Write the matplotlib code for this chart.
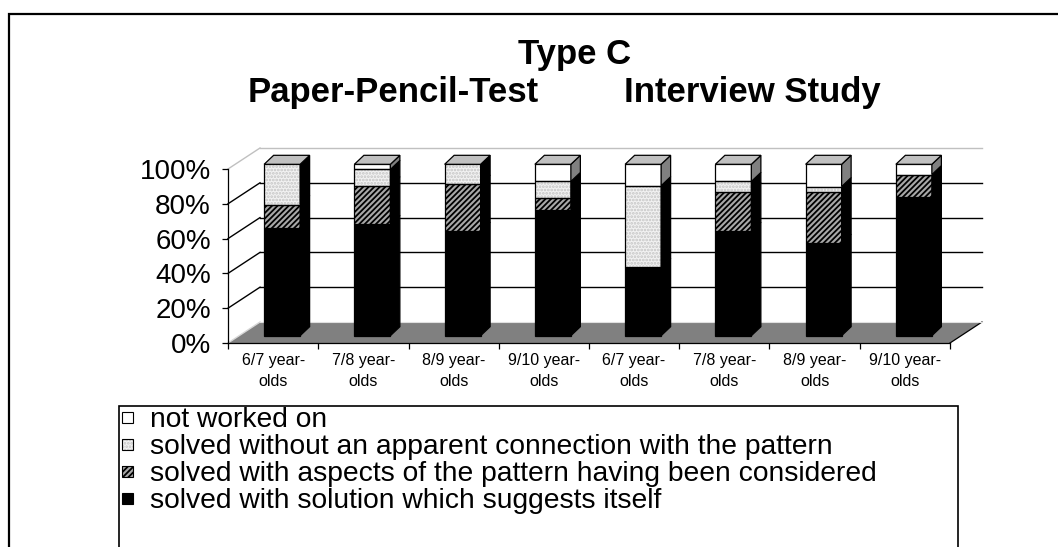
import matplotlib
matplotlib.use('Agg')
import matplotlib.pyplot as plt
from matplotlib.patches import Polygon, Rectangle
from matplotlib.lines import Line2D

# ---------------- data ----------------
groups = ['Paper-Pencil-Test', 'Interview Study']
age_labels = ['6/7 year-\nolds', '7/8 year-\nolds', '8/9 year-\nolds', '9/10 year-\nolds',
              '6/7 year-\nolds', '7/8 year-\nolds', '8/9 year-\nolds', '9/10 year-\nolds']
solved_itself = [63, 65, 61, 73.5, 40, 61, 54, 81]
solved_aspects = [13.5, 22.5, 27.5, 7, 0, 23, 30, 13]
solved_without = [23.5, 9.5, 11.5, 9.5, 47.5, 6, 3, 0]
not_worked = [0, 3, 0, 10, 12.5, 10, 13, 6]
series_labels = ['solved with solution which suggests itself',
                 'solved with aspects of the pattern having been considered',
                 'solved without an apparent connection with the pattern',
                 'not worked on']
y_ticks = [0, 20, 40, 60, 80, 100]
y_tick_labels = ['0%', '20%', '40%', '60%', '80%', '100%']
title = 'Type C'

# ---------------- style ----------------
plt.rcParams['font.family'] = ['Liberation Sans', 'DejaVu Sans']
plt.rcParams['hatch.linewidth'] = 1.3

W, H = 1058, 547
fig = plt.figure(figsize=(W / 100, H / 100), dpi=100)
ax = fig.add_axes([228 / W, (H - 343) / H, 722 / W, 174 / H])
n = len(age_labels)
ax.set_xlim(0, n)
ax.set_ylim(0, 100)
ax.patch.set_visible(False)
for s in ['top', 'right']:
    ax.spines[s].set_visible(False)
for s in ['left', 'bottom']:
    ax.spines[s].set_linewidth(0.9)
    ax.spines[s].set_zorder(2.5)

pos = ax.get_position()
px_per_x = pos.width * W / n
px_per_y = pos.height * H / 100.0


def pix(dx, dy):
    return dx / px_per_x, dy / px_per_y


fdx, fdy = pix(32, 21)      # floor / wall depth
bfx, bfy = pix(9, 7.3)      # bar front offset
bdx, bdy = pix(9.5, 9)      # bar depth
bw = pix(36, 0)[0]          # bar width
bar_scale = 0.985

# floor
ax.add_patch(Polygon([(0, 0), (n, 0), (n + fdx, fdy), (fdx, fdy)], closed=True,
                     facecolor='#808080', edgecolor='none', zorder=1, clip_on=False))
ax.add_line(Line2D([n, n + fdx], [0, fdy], color='black', lw=0.9, zorder=1.5, clip_on=False))
ax.add_line(Line2D([0, fdx], [0, fdy], color='#d8d8d8', lw=1.0, zorder=1.5, clip_on=False))
ax.add_line(Line2D([fdx, n + fdx], [fdy, fdy], color='#e0e0e0', lw=0.8, zorder=1.5, clip_on=False))

# walls / gridlines
for yv in y_ticks[1:]:
    col = '#c0c0c0' if yv == 100 else 'black'
    ax.add_line(Line2D([fdx, n + fdx], [yv + fdy, yv + fdy], color=col, lw=1.0, zorder=1.2, clip_on=False))
    ax.add_line(Line2D([0, fdx], [yv, yv + fdy], color=col, lw=1.0, zorder=1.2, clip_on=False))

styles = [
    dict(fc='black', hatch=None, hc=None, side='black'),
    dict(fc='#a8a8a8', hatch='//////', hc='black', side='black'),
    dict(fc='#f2f2f2', hatch='.....', hc='#c4c4c4', side='black'),
    dict(fc='white', hatch=None, hc=None, side='#808080'),
]
series = [solved_itself, solved_aspects, solved_without, not_worked]


def face(verts, st, z, fc=None):
    fcol = fc if fc is not None else st['fc']
    if st['hatch'] and fc is None:
        ax.add_patch(Polygon(verts, closed=True, facecolor=fcol, hatch=st['hatch'],
                             edgecolor=st['hc'], lw=0, zorder=z, clip_on=False))
        ax.add_patch(Polygon(verts, closed=True, fill=False, edgecolor='black',
                             lw=0.9, zorder=z + 0.01, clip_on=False))
    else:
        ax.add_patch(Polygon(verts, closed=True, facecolor=fcol, edgecolor='black',
                             lw=0.9, zorder=z, clip_on=False))


for i in range(n):
    x0 = i + 0.5 - bw / 2 + bfx
    x1 = x0 + bw
    base = bfy
    cum = 0.0
    for k, vals in enumerate(series):
        v = vals[i]
        if v <= 0:
            continue
        y0 = base + cum * bar_scale
        y1 = base + (cum + v) * bar_scale
        st = styles[k]
        face([(x0, y0), (x1, y0), (x1, y1), (x0, y1)], st, 3)
        face([(x1, y0), (x1 + bdx, y0 + bdy), (x1 + bdx, y1 + bdy), (x1, y1)], st, 3, fc=st['side'])
        cum += v
    ytop = base + cum * bar_scale
    face([(x0, ytop), (x1, ytop), (x1 + bdx, ytop + bdy), (x0 + bdx, ytop + bdy)],
         styles[0], 3.1, fc='#c0c0c0')

# axes ticks
ax.set_yticks(y_ticks, y_tick_labels)
ax.tick_params(axis='y', length=4.3, width=0.9, pad=8, labelsize=20, direction='out')
ax.set_xticks(range(n + 1))
ax.set_xticklabels([''] * (n + 1))
ax.set_xticks([i + 0.5 for i in range(n)], minor=True)
ax.set_xticklabels(age_labels, minor=True)
ax.tick_params(axis='x', which='major', length=4.3, width=0.9, direction='out')
ax.tick_params(axis='x', which='minor', length=0, pad=7, labelsize=11.5)
for t in ax.get_xminorticklabels():
    t.set_linespacing(1.5)

# titles
fig.text(575 / W, 1 - 64 / H, title, ha='center', va='baseline', fontsize=25, fontweight='bold')
fig.text(248 / W, 1 - 102 / H, groups[0], ha='left', va='baseline', fontsize=25, fontweight='bold')
fig.text(624 / W, 1 - 102 / H, groups[1], ha='left', va='baseline', fontsize=25, fontweight='bold')

# outer frame and legend frame
fig.add_artist(Rectangle((9 / W, -0.05), 1.1, 1 - 14 / H + 0.05, transform=fig.transFigure,
                         fill=False, edgecolor='black', lw=1.6))
fig.add_artist(Rectangle((119 / W, -0.05), (958 - 119) / W, 1 - 406 / H + 0.05,
                         transform=fig.transFigure, fill=False, edgecolor='black', lw=1.2))

# legend entries (top to bottom)
leg_rows = [417, 444, 471, 498]
order = [3, 2, 1, 0]
for row, k in zip(leg_rows, order):
    st = styles[k]
    sq = 11
    xy = (122 / W, 1 - (row + sq / 2) / H)
    wh = (sq / W, sq / H)
    if st['hatch']:
        fig.add_artist(Rectangle(xy, *wh, transform=fig.transFigure, facecolor=st['fc'],
                                 hatch=st['hatch'], edgecolor=st['hc'], lw=0))
        fig.add_artist(Rectangle(xy, *wh, transform=fig.transFigure, fill=False,
                                 edgecolor='black', lw=0.8))
    else:
        fig.add_artist(Rectangle(xy, *wh, transform=fig.transFigure, facecolor=st['fc'],
                                 edgecolor='black', lw=0.8))
    fig.text(150 / W, 1 - row / H, series_labels[k], ha='left', va='center_baseline', fontsize=20.3)

fig.savefig('out.png', dpi=100)
